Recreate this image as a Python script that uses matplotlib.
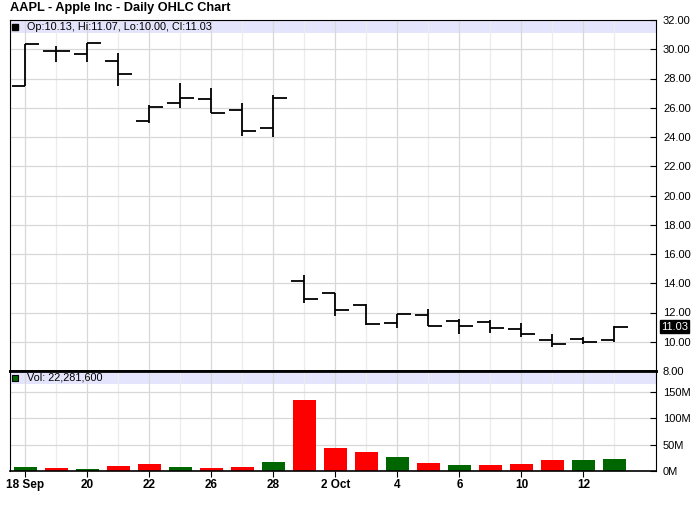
import matplotlib
matplotlib.use('Agg')
import matplotlib.pyplot as plt
from matplotlib.transforms import blended_transform_factory
import numpy as np

plt.rcParams['font.family'] = ['Liberation Sans', 'DejaVu Sans']

dates = ['18 Sep', '19', '20', '21', '22', '25', '26', '27', '28', '29',
         '2 Oct', '3', '4', '5', '6', '9', '10', '11', '12', '13']
opens = [27.52, 29.85, 29.70, 29.18, 25.09, 26.32, 26.59, 25.84, 24.61, 14.13,
         13.30, 12.50, 11.25, 11.82, 11.41, 11.32, 10.84, 10.11, 10.18, 10.13]
highs = [30.36, 30.22, 30.45, 29.77, 26.18, 27.68, 27.34, 26.32, 26.86, 14.54,
         13.32, 12.55, 11.93, 12.27, 11.54, 11.48, 11.25, 10.52, 10.34, 11.07]
lows = [27.50, 29.15, 29.15, 27.52, 24.93, 25.95, 25.63, 24.04, 23.97, 12.68,
        11.77, 11.14, 10.95, 11.07, 10.50, 10.57, 10.30, 9.62, 9.84, 10.00]
closes = [30.34, 29.85, 30.45, 28.34, 26.02, 26.66, 25.63, 24.41, 26.66, 12.91,
          12.16, 11.18, 11.87, 11.07, 11.09, 10.91, 10.52, 9.84, 10.00, 11.03]
volumes = [7.6, 5.7, 3.8, 9.5, 13.3, 7.6, 5.7, 7.6, 17.0, 134.5,
           43.6, 36.0, 26.5, 15.2, 11.4, 11.4, 13.3, 20.8, 20.8, 22.2816]  # millions
price_ticks = [8, 10, 12, 14, 16, 18, 20, 22, 24, 26, 28, 30, 32]
vol_ticks = [0, 50, 100, 150]
vol_labels = ['0M', '50M', '100M', '150M']

x = np.arange(len(dates))
up_color = '#006600'
down_color = '#ff0000'
band_color = '#e4e4fc'
prev = [opens[0]] + closes[:-1]
vcolors = [up_color if c > p else down_color for c, p in zip(closes, prev)]

W, H = 700, 512
fig = plt.figure(figsize=(7, 5.12), dpi=100, facecolor='white')
L, R = 10 / W, 656 / W
ax = fig.add_axes([L, (H - 371) / H, R - L, (371 - 20) / H])
axv = fig.add_axes([L, (H - 471) / H, R - L, 100 / H], sharex=ax)

fig.text(10 / W, 1 - 8 / H, 'AAPL - Apple Inc - Daily OHLC Chart',
         fontsize=9.2, fontweight='bold', va='center', ha='left')

for a in (ax, axv):
    a.set_axisbelow(True)
    a.set_xticks(x[::2])
    a.set_xticks(x[1::2], minor=True)
    a.grid(True, which='major', axis='both', color='#d8d8d8', lw=0.9)
    a.grid(True, which='minor', axis='x', color='#ececec', lw=0.9)
    a.yaxis.tick_right()
    a.tick_params(axis='y', direction='in', length=4, width=0.8, labelsize=8, pad=5)
    a.tick_params(axis='x', which='minor', length=0)
    for s in a.spines.values():
        s.set_color('black')
        s.set_linewidth(0.8)

ax.set_xlim(-0.5, 20.34)

# price panel
ax.set_ylim(8, 32)
ax.set_yticks(price_ticks)
ax.set_yticklabels(['%.2f' % v for v in price_ticks])
ax.tick_params(axis='x', which='major', length=0, labelbottom=False)
ax.spines['bottom'].set_linewidth(2)
ax.axhspan(31.1, 32, color=band_color, zorder=0.3, lw=0)

tick = 0.45
ax.vlines(x, lows, highs, color='black', lw=1.3)
ax.hlines(opens, x - tick, x, color='black', lw=1.3)
ax.hlines(closes, x, x + tick, color='black', lw=1.3)

ax.plot([0.0075], [1 - 6.5 / 351], marker='s', ms=4.5, color='black',
        transform=ax.transAxes, clip_on=False)
ax.text(0.026, 1 - 6.5 / 351,
        'Op:%.2f, Hi:%.2f, Lo:%.2f, Cl:%.2f' % (opens[-1], highs[-1], lows[-1], closes[-1]),
        transform=ax.transAxes, fontsize=7.8, va='center', ha='left')

tr = blended_transform_factory(ax.transAxes, ax.transData)
ax.text(1 + 5 / 646, closes[-1], '%.2f' % closes[-1], transform=tr, fontsize=8,
        color='white', va='center', ha='left',
        bbox=dict(boxstyle='square,pad=0.12', fc='black', ec='black'))

# volume panel
axv.bar(x, volumes, width=0.74, color=vcolors, zorder=2)
axv.set_ylim(0, 189)
axv.set_yticks(vol_ticks)
axv.set_yticklabels(vol_labels)
axv.spines['top'].set_linewidth(2)
axv.spines['bottom'].set_linewidth(1.2)
axv.axhspan(164.4, 189, color=band_color, zorder=0.3, lw=0)
axv.set_xticklabels(dates[::2], fontweight='bold', fontsize=8.5)
axv.tick_params(axis='x', which='major', direction='out', length=4, width=0.8, pad=2)

axv.plot([0.0075], [0.935], marker='s', ms=5, mfc=up_color, mec='black', mew=0.8,
         transform=axv.transAxes, clip_on=False)
axv.text(0.026, 0.935, 'Vol: {:,}'.format(int(round(volumes[-1] * 1e6))),
         transform=axv.transAxes, fontsize=7.8, va='center', ha='left')

fig.savefig('out.png', dpi=100)
